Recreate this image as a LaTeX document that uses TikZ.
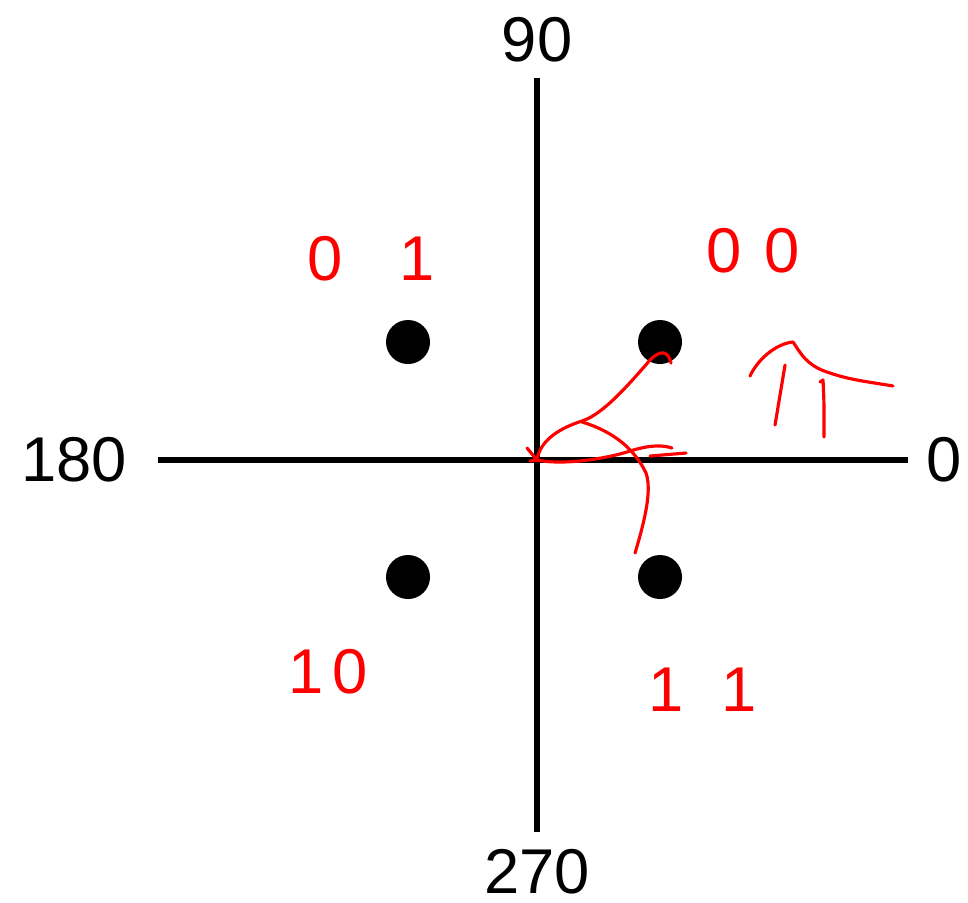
\documentclass[tikz,border=0pt]{standalone}
\usepackage{fontspec}
\setmainfont{Liberation Sans}
\usetikzlibrary{arrows.meta,positioning}
\definecolor{ink}{HTML}{000000}
\definecolor{pen}{HTML}{FF0000}
\tikzset{
  axisline/.style={line width=1.45pt,draw=ink},
  qpskdot/.style={circle,fill=ink,minimum size=0.44cm,inner sep=0pt},
  anglabel/.style={font=\fontsize{18}{20}\selectfont,inner sep=1pt},
  bitlabel/.style={font=\fontsize{18}{20}\selectfont,text=pen,inner sep=1pt},
  penstroke/.style={line width=0.9pt,draw=pen,line cap=round,line join=round}
}
\begin{document}
\begin{tikzpicture}[x=0.01cm,y=-0.01cm]
  \useasboundingbox (0,0) rectangle (968,902);

  % axes and angle labels
  \coordinate (o) at (537,460);
  \coordinate (xl) at (158,460);
  \coordinate (xr) at (908,460);
  \coordinate (yt) at (537,78);
  \coordinate (yb) at (537,832);
  \draw[axisline] (xl) -- (xr);
  \draw[axisline] (yt) -- (yb);

  \node[anglabel] (l90) at (537,40) {90};
  \node[anglabel] (l180) at (74,460) {180};
  \node[anglabel] (l0) at (944,460) {0};
  \node[anglabel] (l270) at (537,872) {270};

  % constellation points
  \node[qpskdot] (d01) at (408,342) {};
  \node[qpskdot] (d00) at (660,342) {};
  \node[qpskdot] (d10) at (408,577) {};
  \node[qpskdot] (d11) at (660,577) {};

  % handwritten bit labels
  \node[bitlabel] (b01) at (371,259) {0\hspace{0.9em}1};
  \node[bitlabel] (b00) at (753,251) {0\hspace{0.35em}0};
  \node[bitlabel] (b10) at (328,672) {1\hspace{0.15em}0};
  \node[bitlabel] (b11) at (703,690) {1\hspace{0.6em}1};

  % red pen marks: phase vector, angle arc, symbol
  \draw[penstroke] (671,363) .. controls (668,350) and (660,350) .. (650,360)
    .. controls (620,395) and (600,415) .. (582,421)
    .. controls (560,428) and (540,440) .. (o);
  \draw[penstroke] (527,448) -- (o) -- (530,461);
  \draw[penstroke] (o) .. controls (560,465) and (600,460) .. (627,452)
    .. controls (645,446) and (660,444) .. (672,448);
  \draw[penstroke] (650,456) -- (686,453);
  \draw[penstroke] (582,422) .. controls (615,432) and (635,450) .. (646,473)
    .. controls (652,490) and (645,520) .. (635,553);
  \draw[penstroke] (750,376) .. controls (760,355) and (780,343) .. (793,342)
    .. controls (800,352) and (806,366) .. (830,373)
    .. controls (850,380) and (870,382) .. (893,386);
  \draw[penstroke] (785,365) -- (775,425);
  \draw[penstroke] (820,382) -- (823,380) .. controls (824,400) .. (824,437);
\end{tikzpicture}
\end{document}
